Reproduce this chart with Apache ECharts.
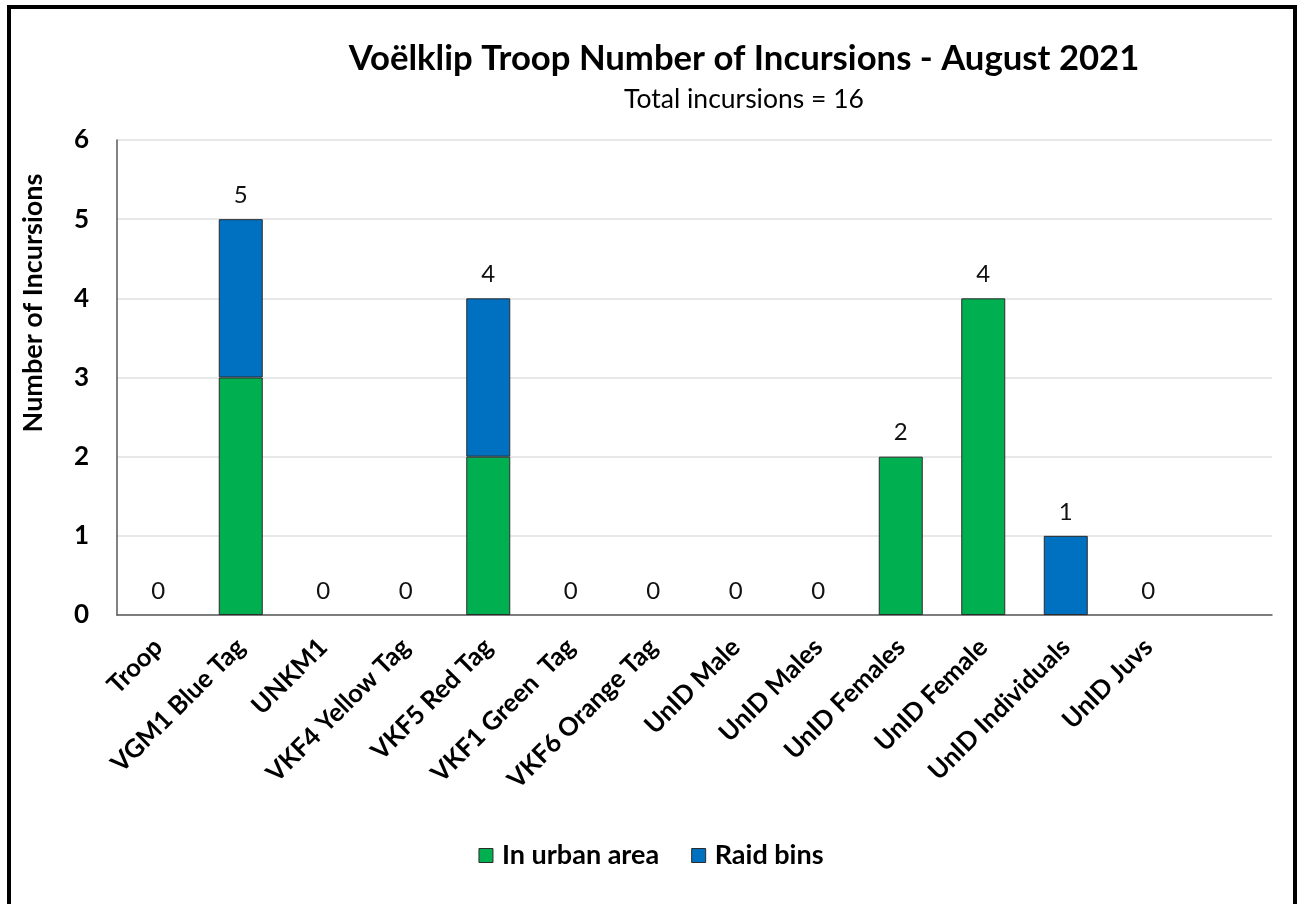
<!DOCTYPE html>
<html><head><meta charset="utf-8">
<script src="https://cdn.jsdelivr.net/npm/echarts@6/dist/echarts.min.js"></script>
<style>html,body{margin:0;padding:0;background:#fff}#c{width:1302px;height:904px}</style>
</head><body><div id="c"></div>
<script>
const categories = ['Troop','VGM1 Blue Tag','UNKM1','VKF4 Yellow Tag','VKF5 Red Tag','VKF1 Green  Tag','VKF6 Orange Tag','UnID Male','UnID Males','UnID Females','UnID Female','UnID Individuals','UnID Juvs',''];
const urban = [0,3,0,0,2,0,0,0,0,2,4,0,0,null];
const raid  = [0,2,0,0,2,0,0,0,0,0,0,1,0,null];
const yTicks = [0,1,2,3,4,5,6];
const totals = urban.map((v,i)=> v===null ? null : v + raid[i]);
const nz = a => a.map(v => (v === 0 ? null : v));
const FONT = 'Lato, "Open Sans", sans-serif';
const chart = echarts.init(document.getElementById('c'));
chart.setOption({
  animation:false,
  textStyle:{fontFamily:FONT},
  title:{
    text:'Voëlklip Troop Number of Incursions - August 2021',
    subtext:'Total incursions = 16',
    left:739, top:36, textAlign:'center',
    textStyle:{fontFamily:FONT,fontSize:34.7,fontWeight:'bold',color:'#000'},
    subtextStyle:{fontFamily:FONT,fontSize:26.5,color:'#000'},
    itemGap:10
  },
  legend:{
    bottom:30, left:'center', itemWidth:14, itemHeight:14, itemGap:32,
    icon:'rect',
    itemStyle:{borderColor:'#2b2b2b',borderWidth:1},
    textStyle:{fontFamily:FONT,fontSize:27,fontWeight:'bold',color:'#000',padding:[0,0,0,4]},
    data:['In urban area','Raid bins']
  },
  grid:{left:117,right:30,top:140,bottom:289},
  xAxis:{
    type:'category', data:categories,
    axisLine:{lineStyle:{color:'#595959',width:1.5}},
    axisTick:{show:false},
    axisLabel:{interval:0,rotate:45,fontSize:25.5,fontWeight:'bold',color:'#000',margin:28,fontFamily:FONT}
  },
  yAxis:{
    type:'value', min:0, max:6, interval:1,
    axisLine:{show:true,lineStyle:{color:'#595959',width:1.5}},
    axisTick:{show:false},
    splitLine:{lineStyle:{color:'#E0E0E0',width:1.5}},
    axisLabel:{fontSize:26,fontWeight:'bold',color:'#000',margin:28,fontFamily:FONT,
      formatter:v=>yTicks.includes(v)?String(v):''}
  },
  series:[
    {name:'In urban area',type:'bar',stack:'s',data:nz(urban),barWidth:44,
     itemStyle:{color:'#00B050',borderColor:'#2b2b2b',borderWidth:1}},
    {name:'Raid bins',type:'bar',stack:'s',data:nz(raid),barWidth:44,
     itemStyle:{color:'#0070C0',borderColor:'#2b2b2b',borderWidth:1}},
    {name:'Total',type:'bar',data:totals,barWidth:44,barGap:'-100%',silent:true,
     itemStyle:{color:'rgba(0,0,0,0)'},
     label:{show:true,position:'top',distance:12,fontSize:24,color:'#111',fontFamily:FONT}}
  ],
  graphic:[
    {type:'text',x:33,y:303,rotation:Math.PI/2,silent:true,
     style:{text:'Number of Incursions',font:'bold 27px '+FONT,fill:'#000',textAlign:'center',textVerticalAlign:'middle'}},
    {type:'rect',shape:{x:9,y:7,width:1286,height:900},style:{fill:'none',stroke:'#000',lineWidth:4},silent:true}
  ]
});
</script></body></html>
